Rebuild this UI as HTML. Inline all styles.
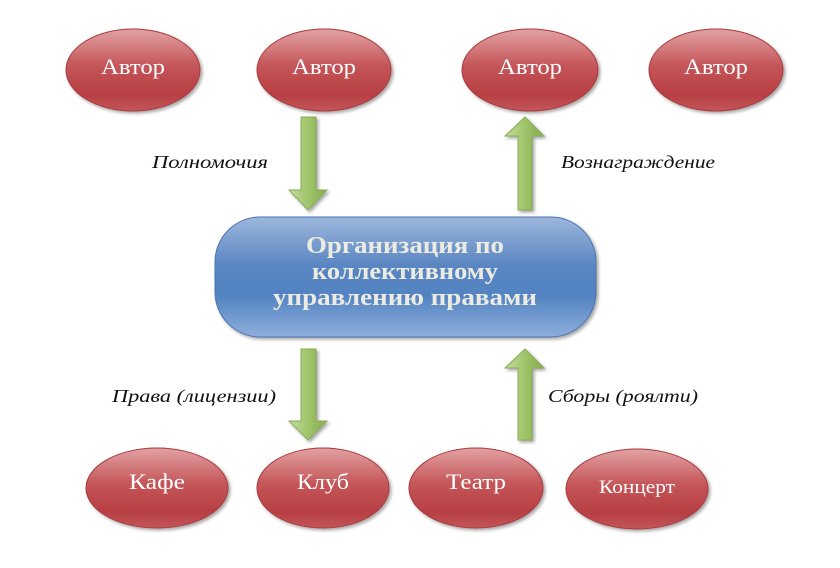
<!DOCTYPE html>
<html><head><meta charset="utf-8"><style>
html,body{margin:0;padding:0;background:#fff;}
svg{display:block}
svg text{font-family:"Liberation Serif","DejaVu Serif","Noto Serif CJK SC",serif !important;}
</style></head><body>
<svg width="840" height="568" viewBox="0 0 840 568" xmlns="http://www.w3.org/2000/svg">
<defs>
<linearGradient id="red" x1="0" y1="0" x2="0" y2="1">
<stop offset="0" stop-color="#e2a2a4"/>
<stop offset="0.45" stop-color="#c45558"/>
<stop offset="0.8" stop-color="#b73f43"/>
<stop offset="1" stop-color="#c3565a"/>
</linearGradient>
<linearGradient id="blue" x1="0" y1="0" x2="0" y2="1">
<stop offset="0" stop-color="#9db7dc"/>
<stop offset="0.4" stop-color="#5a86c2"/>
<stop offset="0.65" stop-color="#5283c2"/>
<stop offset="1" stop-color="#8eaedb"/>
</linearGradient>
<linearGradient id="grn" x1="0" y1="0" x2="1" y2="0">
<stop offset="0" stop-color="#c4dca0"/>
<stop offset="0.5" stop-color="#a0c46a"/>
<stop offset="1" stop-color="#86ac4e"/>
</linearGradient>
<filter id="sh" x="-10%" y="-10%" width="130%" height="130%">
<feDropShadow dx="2" dy="2" stdDeviation="1.5" flood-color="#000" flood-opacity="0.35"/>
</filter>
</defs>
<g filter="url(#sh)" fill="url(#red)" stroke="#a83a3e" stroke-width="1">
<ellipse cx="133" cy="70" rx="67" ry="41"/>
<ellipse cx="324" cy="70" rx="67" ry="41"/>
<ellipse cx="530" cy="70" rx="68" ry="41"/>
<ellipse cx="716" cy="70" rx="67" ry="41"/>
<ellipse cx="157" cy="488" rx="71" ry="40"/>
<ellipse cx="323" cy="488" rx="66" ry="40"/>
<ellipse cx="476" cy="488" rx="67" ry="40"/>
<ellipse cx="637" cy="489" rx="71" ry="40"/>
</g>
<g font-size="22" fill="#fff" text-anchor="middle">
<text x="133" y="74" textLength="64" lengthAdjust="spacingAndGlyphs">Автор</text>
<text x="324" y="74" textLength="64" lengthAdjust="spacingAndGlyphs">Автор</text>
<text x="530" y="74" textLength="64" lengthAdjust="spacingAndGlyphs">Автор</text>
<text x="716" y="74" textLength="64" lengthAdjust="spacingAndGlyphs">Автор</text>
<text x="157" y="489" textLength="56" lengthAdjust="spacingAndGlyphs">Кафе</text>
<text x="323" y="489" textLength="52" lengthAdjust="spacingAndGlyphs">Клуб</text>
<text x="476" y="489" textLength="60" lengthAdjust="spacingAndGlyphs">Театр</text>
<text x="637" y="493" font-size="19" textLength="76" lengthAdjust="spacingAndGlyphs">Концерт</text>
</g>
<rect x="215" y="217" width="381" height="120" rx="45" fill="url(#blue)" stroke="#4a74b0" filter="url(#sh)"/>
<g font-size="24" font-weight="bold" fill="#ecebe2" text-anchor="middle">
<text x="405" y="253" textLength="198" lengthAdjust="spacingAndGlyphs">Организация по</text>
<text x="405" y="279" textLength="186" lengthAdjust="spacingAndGlyphs">коллективному</text>
<text x="405" y="305" textLength="264" lengthAdjust="spacingAndGlyphs">управлению правами</text>
</g>
<g fill="url(#grn)" stroke="#8aab55" stroke-width="1" filter="url(#sh)">
<polygon points="301,117 316,117 316,190 327,190 308,210 289,190 301,190"/>
<polygon points="518,210 532,210 532,136 544,136 525,117 505,136 518,136"/>
<polygon points="301,349 316,349 316,421 327,421 308,440 289,421 301,421"/>
<polygon points="518,440 532,440 532,368 544,368 525,349 505,368 518,368"/>
</g>
<g font-size="18" font-style="italic" fill="#111" text-anchor="middle">
<text x="210" y="168" textLength="116" lengthAdjust="spacingAndGlyphs">Полномочия</text>
<text x="638" y="168" textLength="154" lengthAdjust="spacingAndGlyphs">Вознаграждение</text>
<text x="194" y="402" textLength="164" lengthAdjust="spacingAndGlyphs">Права (лицензии)</text>
<text x="623" y="402" textLength="150" lengthAdjust="spacingAndGlyphs">Сборы (роялти)</text>
</g>
</svg>
</body></html>
